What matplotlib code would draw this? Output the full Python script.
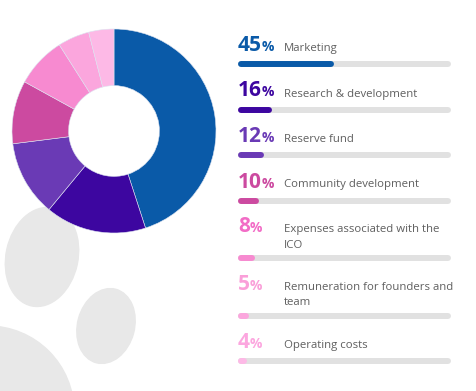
import matplotlib.pyplot as plt
from matplotlib.patches import Ellipse, Circle

plt.rcParams['font.family'] = ['Open Sans', 'DejaVu Sans']

labels = ["Marketing", "Research & development", "Reserve fund",
          "Community development", "Expenses associated with the\nICO",
          "Remuneration for founders and\nteam", "Operating costs"]
shares = [45, 16, 12, 10, 8, 5, 4]
colors = ["#0a5aa8", "#3d06a0", "#6a3ab5", "#cc4aa0", "#f78ad0", "#fba6dd", "#fdb9e6"]
text_colors = ["#0a5aa8", "#3d06a0", "#6a3ab5", "#cc4aa0", "#f26cc6", "#fa9fd9", "#fca6df"]

fig = plt.figure(figsize=(4.76, 3.91), dpi=100)
ax = fig.add_axes([0, 0, 1, 1])

# background blobs
blob = "#e8e8e8"
ax.add_patch(Ellipse((42, 257), 72, 100, angle=12, color=blob, zorder=0))
ax.add_patch(Ellipse((106, 326), 57, 76, angle=15, color=blob, zorder=0))
ax.add_patch(Circle((-12, 412), 86, color=blob, zorder=0))

# donut (y axis is flipped, so startangle -90 is the top and ccw reads clockwise)
ax.pie(shares, colors=colors, center=(114, 131), radius=102, startangle=-90,
       counterclock=True, wedgeprops=dict(width=102 * 0.555, edgecolor="#dde3f0", linewidth=0.4))

ax.set_xlim(0, 476)
ax.set_ylim(391, 0)
ax.set_aspect("auto")
ax.axis("off")

# legend rows with progress bars
x0, bar_w, r = 238, 213, 3
bar_y = 64
renderer = fig.canvas.get_renderer()
for i, (lab, val) in enumerate(zip(labels, shares)):
    lines = lab.split("\n")
    n = len(lines)
    if i > 0:
        bar_y += 45.5 + 12 * (n - 1)
    base = bar_y - 13 - 13 * (n - 1)
    t = ax.text(x0, base, str(val), fontsize=15, fontweight="bold",
                color=text_colors[i], va="baseline", ha="left")
    bb = t.get_window_extent(renderer).transformed(ax.transData.inverted())
    ax.text(bb.x1 - 0.5, base, "%", fontsize=10, fontweight="bold",
            color=text_colors[i], va="baseline", ha="left")
    for k, line in enumerate(lines):
        ax.text(284, base + 15.5 * k, line, fontsize=8.2, color="#5f5f5f",
                va="baseline", ha="left")
    ax.plot([x0 + r, x0 + bar_w - r], [bar_y, bar_y], color="#e1e1e1",
            lw=4.3, solid_capstyle="round", zorder=1)
    ax.plot([x0 + r, max(x0 + r, x0 + bar_w * val / 100 - r)], [bar_y, bar_y],
            color=colors[i], lw=4.3, solid_capstyle="round", zorder=2)

fig.savefig("out.png", dpi=100)
